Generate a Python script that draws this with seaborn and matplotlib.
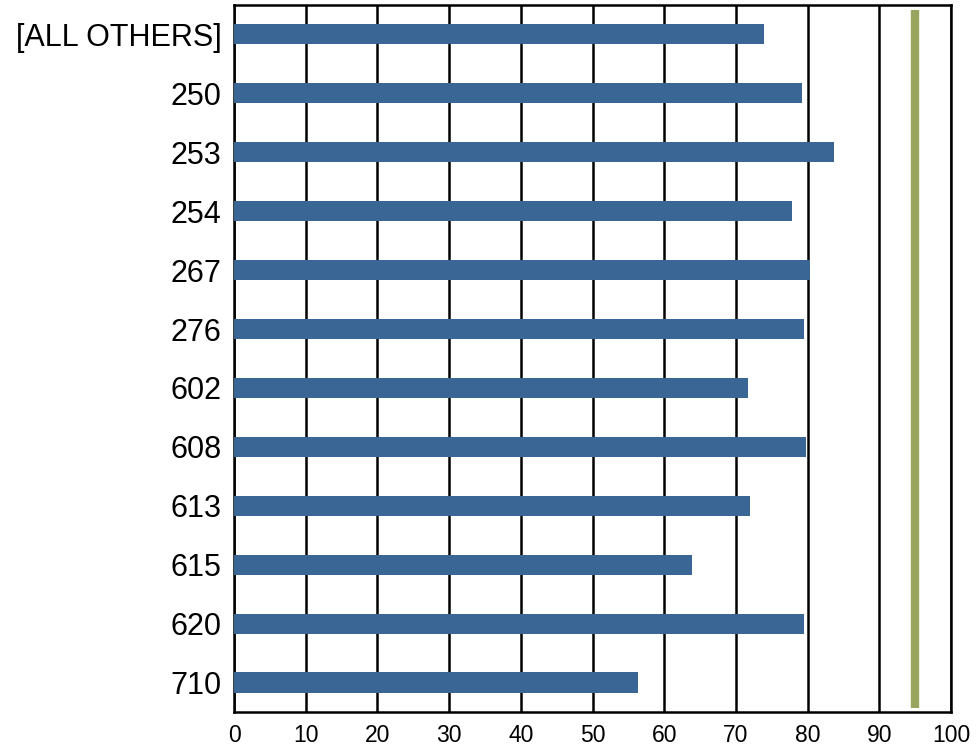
import numpy as np
import pandas as pd
import matplotlib
matplotlib.use('Agg')
import matplotlib.pyplot as plt
import seaborn as sns

# data
categories = ['[ALL OTHERS]', '250', '253', '254', '267', '276',
              '602', '608', '613', '615', '620', '710']
values = [73.9, 79.2, 83.7, 77.8, 80.3, 79.5, 71.7, 79.8, 72.0, 63.9, 79.5, 56.3]
target = 95
x_ticks = list(range(0, 101, 10))

df = pd.DataFrame({'code': categories, 'value': values})

sns.set_style('white')
plt.rcParams['font.family'] = ['Liberation Sans', 'DejaVu Sans']

fig = plt.figure(figsize=(9.76, 7.55), dpi=100)
ax = fig.add_axes([0.2398, 0.057, 0.7346, 0.9364])

sns.barplot(data=df, x='value', y='code', orient='h', color='#3A6696',
            saturation=1, width=0.34, linewidth=0, ax=ax, zorder=3)

ax.axvline(target, ymin=0.006, ymax=0.993, color='#98A55E', lw=6,
           solid_capstyle='butt', zorder=4)

ax.set_xlim(0, 100)
ax.set_ylim(11.5, -0.5)
ax.set_xticks(x_ticks)
ax.set_xticklabels([str(t) for t in x_ticks], fontsize=16.5)
ax.tick_params(axis='y', labelsize=22, length=0, pad=9, labelcolor='black')
ax.tick_params(axis='x', length=0, pad=9, labelcolor='black')
ax.set_xlabel('')
ax.set_ylabel('')

ax.grid(axis='x', color='black', lw=1.8, zorder=0)
ax.set_axisbelow(True)
for s in ax.spines.values():
    s.set_color('black')
    s.set_linewidth(1.8)

fig.savefig('out.png', dpi=100)
